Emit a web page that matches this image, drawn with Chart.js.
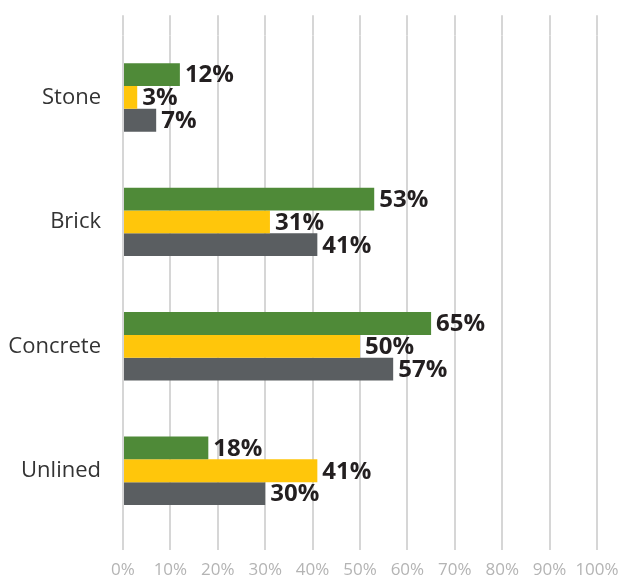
<!DOCTYPE html>
<html>
<head>
<meta charset="utf-8">
<script src="https://cdn.jsdelivr.net/npm/chart.js@4/dist/chart.umd.min.js"></script>
<style>
  html, body { margin: 0; padding: 0; background: #fff; }
  #wrap { width: 624px; height: 579px; position: relative; }
</style>
</head>
<body>
<div id="wrap"><canvas id="chart"></canvas></div>
<script>
// Lining types and the share (%) for each of the three series
const categories = ['Stone', 'Brick', 'Concrete', 'Unlined'];
const greenValues = [12, 53, 65, 18];
const yellowValues = [3, 31, 50, 41];
const greyValues = [7, 41, 57, 30];
const xTicks = [0, 10, 20, 30, 40, 50, 60, 70, 80, 90, 100];

const GRID = '#d6d6d6';

// Writes the percentage at the end of each bar
const valueLabels = {
  id: 'valueLabels',
  afterDatasetsDraw(chart) {
    const ctx = chart.ctx;
    ctx.save();
    ctx.font = 'bold 24px "Open Sans"';
    ctx.fillStyle = '#231f20';
    ctx.textAlign = 'left';
    ctx.textBaseline = 'middle';
    chart.data.datasets.forEach((ds, i) => {
      chart.getDatasetMeta(i).data.forEach((bar, j) => {
        ctx.fillText(ds.data[j] + '%', bar.x + 5, bar.y + 1);
      });
    });
    ctx.restore();
  }
};

new Chart(document.getElementById('chart'), {
  type: 'bar',
  data: {
    labels: categories,
    datasets: [
      { data: greenValues, backgroundColor: '#4f8a38' },
      { data: yellowValues, backgroundColor: '#ffc60b' },
      { data: greyValues, backgroundColor: '#5a5e61' }
    ]
  },
  options: {
    indexAxis: 'y',
    responsive: true,
    maintainAspectRatio: false,
    animation: false,
    datasets: { bar: { categoryPercentage: 0.55, barPercentage: 1 } },
    layout: { padding: { left: 0, right: 27, top: 13, bottom: 0 } },
    plugins: { legend: { display: false }, tooltip: { enabled: false } },
    scales: {
      y: {
        grid: { display: false, drawTicks: false },
        border: { display: false },
        ticks: { padding: 22, color: '#333333', font: { family: '"Open Sans"', size: 22 } },
        afterFit: (scale) => { scale.width = 123; }
      },
      x: {
        min: 0,
        max: 100,
        afterBuildTicks: (scale) => { scale.ticks = xTicks.map(v => ({ value: v })); },
        grid: { color: GRID, lineWidth: 2, tickLength: 17 },
        border: { display: false },
        ticks: {
          padding: 10,
          maxRotation: 0,
          minRotation: 0,
          autoSkip: false,
          color: '#b4b4b4',
          font: { family: '"Open Sans"', size: 17 },
          callback: (v) => v + '%'
        },
        afterFit: (scale) => {
          scale.height = 46;
          scale.paddingLeft = 0;
          scale.paddingRight = 0;
        }
      },
      // top axis only extends the grid lines above the bars
      x2: {
        position: 'top',
        min: 0,
        max: 100,
        afterBuildTicks: (scale) => { scale.ticks = xTicks.map(v => ({ value: v })); },
        grid: { color: GRID, lineWidth: 2, tickLength: 20, drawOnChartArea: false },
        border: { display: false },
        ticks: { display: false },
        afterFit: (scale) => {
          scale.height = 20;
          scale.paddingLeft = 0;
          scale.paddingRight = 0;
        }
      }
    }
  },
  plugins: [valueLabels]
});
</script>
</body>
</html>
